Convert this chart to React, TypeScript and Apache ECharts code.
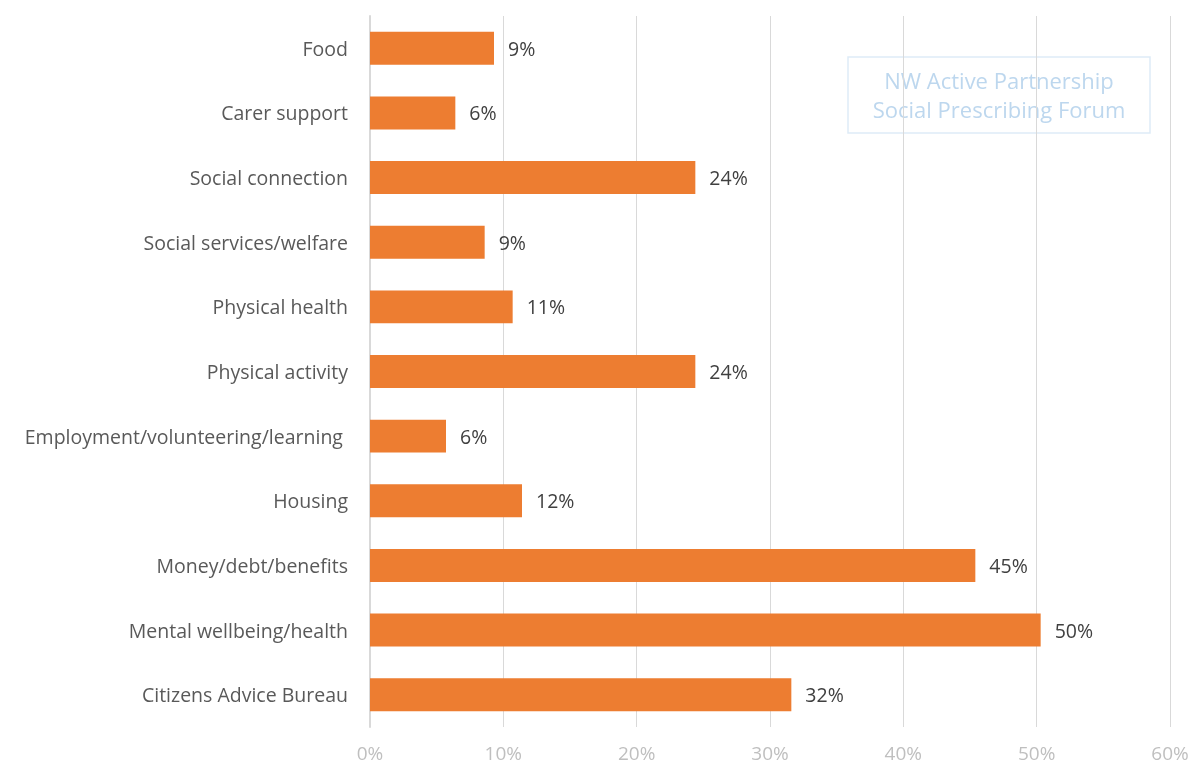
import React, { useEffect, useRef } from "react";
import * as echarts from "echarts";

const categories = [
  "Food",
  "Carer support",
  "Social connection",
  "Social services/welfare",
  "Physical health",
  "Physical activity",
  "Employment/volunteering/learning ",
  "Housing",
  "Money/debt/benefits",
  "Mental wellbeing/health",
  "Citizens Advice Bureau",
];
const values = [9.3, 6.4, 24.4, 8.6, 10.7, 24.4, 5.7, 11.4, 45.4, 50.3, 31.6];
const labels = ["9%", "6%", "24%", "9%", "11%", "24%", "6%", "12%", "45%", "50%", "32%"];
const xTicks = [0, 10, 20, 30, 40, 50, 60];
const boxLines = ["NW Active Partnership", "Social Prescribing Forum"];

const FONT = "'Open Sans', sans-serif";

export default function App() {
  const ref = useRef<HTMLDivElement>(null);
  useEffect(() => {
    if (!ref.current) return;
    const chart = echarts.init(ref.current, null, { renderer: "svg" });
    chart.setOption({
      animation: false,
      grid: { left: 370, right: 23, top: 16, bottom: 37, containLabel: false },
      xAxis: {
        type: "value",
        min: xTicks[0],
        max: xTicks[xTicks.length - 1],
        interval: 10,
        axisLine: { show: false },
        axisTick: { show: false },
        splitLine: { show: true, lineStyle: { color: "#d9d9d9", width: 1 } },
        axisLabel: {
          formatter: (v: number) => `${v}%`,
          color: "#bfbfbf",
          fontSize: 19,
          fontFamily: FONT,
          margin: 16,
        },
      },
      yAxis: {
        type: "category",
        inverse: true,
        data: categories,
        axisLine: { show: true, lineStyle: { color: "#d9d9d9", width: 2 } },
        axisTick: { show: false },
        axisLabel: {
          color: "#595959",
          fontSize: 19.5,
          fontFamily: FONT,
          margin: 22,
        },
      },
      series: [
        {
          type: "bar",
          data: values,
          barCategoryGap: "49%",
          itemStyle: { color: "#ED7D31" },
          label: {
            show: true,
            position: "right",
            distance: 14,
            formatter: (p: any) => labels[p.dataIndex],
            color: "#404040",
            fontSize: 19.5,
            fontFamily: FONT,
          },
        },
      ],
      graphic: [
        {
          type: "rect",
          x: 848,
          y: 57,
          shape: { x: 0, y: 0, width: 302, height: 76 },
          style: { fill: "#ffffff", stroke: "#deebf7", lineWidth: 1.5 },
        },
        {
          type: "text",
          x: 999,
          y: 65,
          style: {
            text: boxLines.join("\n"),
            align: "center",
            verticalAlign: "top",
            fill: "#bdd7ee",
            fontSize: 22,
            lineHeight: 29,
            fontFamily: FONT,
          },
        },
      ],
    });
    return () => chart.dispose();
  }, []);
  return (
    <div
      ref={ref}
      style={{ position: "fixed", left: 0, top: 0, width: 1193, height: 764 }}
    />
  );
}
